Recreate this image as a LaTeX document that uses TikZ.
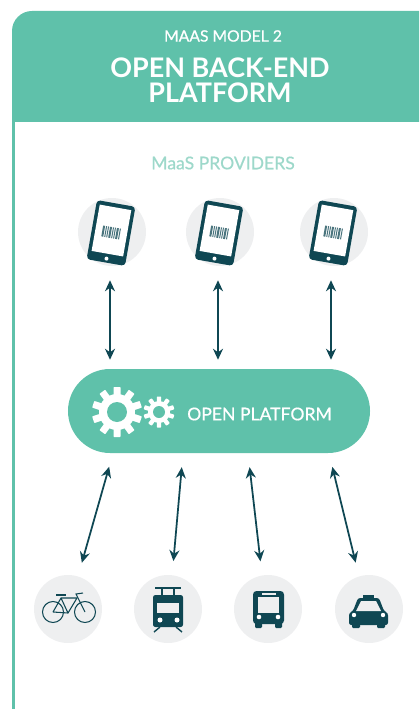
\documentclass[tikz,border=0pt]{standalone}
\usepackage{fontspec}
\setmainfont{Lato}
\newfontfamily\labelfont[FakeBold=0.6]{Lato}
\usetikzlibrary{arrows.meta}
\definecolor{panelgreen}{HTML}{5FC1AA}
\definecolor{lightgreen}{HTML}{9DD8CA}
\definecolor{darkteal}{HTML}{0F4753}
\definecolor{discgray}{HTML}{EEEFF0}
\tikzset{
  disc/.style={circle, fill=discgray, minimum size=2.04cm, inner sep=0pt},
  link/.style={{Stealth[length=0.33cm,width=0.3cm]}-{Stealth[length=0.33cm,width=0.3cm]}, darkteal, line width=1.5pt, shorten <=0.42cm, shorten >=0.42cm},
  pics/tablet/.style={code={
    \begin{scope}[rotate=-10]
      \fill[darkteal, rounded corners=3pt] (-19.5,-30) rectangle (19.5,30);
      \fill[white] (-16,-26) rectangle (16,21);
      \fill[white] (0,26) circle (2);
      \foreach \x/\w in {-9/2,-6/1,-4/1,-2/2,1/1,3/1,5/2,8/1}
        \fill[darkteal!75] (\x,-6) rectangle ++(\w,11);
    \end{scope}
  }}
}
\newcommand{\gearwheel}[4]{% centre, outer, body and hole radius
  \begin{scope}[shift={(#1)}]
    \foreach \a in {0,36,...,324}
      \fill[white, rounded corners=0.5pt, rotate=\a] (-0.14*#2,0) rectangle (0.14*#2,#2);
    \fill[white] (0,0) circle (#3);
    \fill[panelgreen] (0,0) circle (#4);
  \end{scope}}
\begin{document}
\begin{tikzpicture}[x=0.03cm, y=-0.03cm]
    \useasboundingbox (0,0) rectangle (419,709);

    % Header and left edge of the panel
    \fill[panelgreen] (419,122) -- (12,122) [rounded corners=0.6cm] -- (12,11) [sharp corners] -- (419,11) -- cycle;
    \fill[panelgreen] (12,122) rectangle (15,709);

    \node[text=white, font=\fontsize{13.4}{15}\selectfont\labelfont] (model) at (223,36) {MAAS MODEL 2};
    \node[text=white, font=\fontsize{23}{21.5}\selectfont\bfseries, align=center] (title) at (220,80) {OPEN BACK-END\\PLATFORM};
    \node[text=lightgreen, font=\fontsize{15}{17}\selectfont\labelfont] (providers) at (223,163) {MaaS PROVIDERS};

    % Providers
    \node[disc] (phonea) at (112,232) {};
    \node[disc] (phoneb) at (220,232) {};
    \node[disc] (phonec) at (334,232) {};
    \pic at (111,233) {tablet};
    \pic at (219,233) {tablet};
    \pic at (333,233) {tablet};

    % Platform
    \node[fill=panelgreen, rounded corners=42*0.03cm, minimum width=9.06cm, minimum height=2.52cm, inner sep=0pt] (platform) at (219,411) {};
    \gearwheel{117,412}{25}{18}{10}
    \gearwheel{159,412}{15.5}{11}{6}
    \node[text=white, anchor=west, inner sep=0pt, font=\fontsize{15}{17}\selectfont\labelfont] (platformtext) at (187,414) {OPEN PLATFORM};

    % Transport modes
    \node[disc] (bike) at (68,609) {};
    \node[disc] (tram) at (168,609) {};
    \node[disc] (bus) at (268,609) {};
    \node[disc] (taxi) at (369,609) {};

    % Bicycle
    \begin{scope}[darkteal, line width=0.9pt]
      \draw (53,612) circle (10.5);
      \draw (85,612) circle (10.5);
      \draw (53,612) -- (61,598) -- (77,598) -- (68,613) -- (53,612);
      \draw (61,598) -- (68,613);
      \draw (85,612) -- (76,594) -- (83,593);
      \draw (56,595) -- (66,595);
    \end{scope}

    % Tram
    \fill[darkteal, rounded corners=2pt] (153,595) rectangle (183,627);
    \fill[discgray] (157,603) rectangle (179,613);
    \fill[white] (160,620) circle (2.5);
    \fill[white] (177,620) circle (2.5);
    \draw[darkteal, line width=1.2pt] (155,588) -- (181,588);
    \draw[darkteal, line width=1.2pt] (162,588) -- (162,595);
    \draw[darkteal, line width=1.2pt] (174,588) -- (174,595);
    \draw[darkteal, line width=1.2pt] (160,627) -- (154,632);
    \draw[darkteal, line width=1.2pt] (176,627) -- (182,632);

    % Bus
    \fill[darkteal, rounded corners=3pt] (253,591) rectangle (284,624);
    \fill[discgray] (258,597) rectangle (279,613);
    \fill[discgray] (262,593) rectangle (276,595);
    \fill[white] (259,617) circle (2.3);
    \fill[white] (278,617) circle (2.3);
    \fill[darkteal, rounded corners=1pt] (255,620) rectangle (262,628);
    \fill[darkteal, rounded corners=1pt] (275,620) rectangle (282,628);

    % Taxi
    \fill[darkteal, rounded corners=2pt] (349,625) -- (349,613) -- (353,611) -- (358,598) -- (379,598) -- (384,611) -- (388,613) -- (388,625) -- cycle;
    \fill[discgray] (356,611) -- (361,601) -- (376,601) -- (381,611) -- cycle;
    \fill[darkteal] (363,595) rectangle (374,598);
    \fill[white] (354,615) circle (2.2);
    \fill[white] (383,615) circle (2.2);
    \fill[darkteal, rounded corners=1pt] (352,622) rectangle (360,628);
    \fill[darkteal, rounded corners=1pt] (377,622) rectangle (385,628);

    % Arrows
    \draw[link, shorten >=0.27cm] ([shift={(-2,0)}]phonea.south) -- ([shift={(-109,0)}]platform.north);
    \draw[link, shorten >=0.27cm] ([shift={(-2,0)}]phoneb.south) -- ([shift={(-1,0)}]platform.north);
    \draw[link, shorten >=0.27cm] ([shift={(-3,0)}]phonec.south) -- ([shift={(112,0)}]platform.north);

    \draw[link] ([shift={(-106,0)}]platform.south) -- (bike.73);
    \draw[link] ([shift={(-36,0)}]platform.south) -- (tram.83);
    \draw[link] ([shift={(29,0)}]platform.south) -- (bus.100);
    \draw[link] ([shift={(110,0)}]platform.south) -- (taxi.107);
\end{tikzpicture}
\end{document}
